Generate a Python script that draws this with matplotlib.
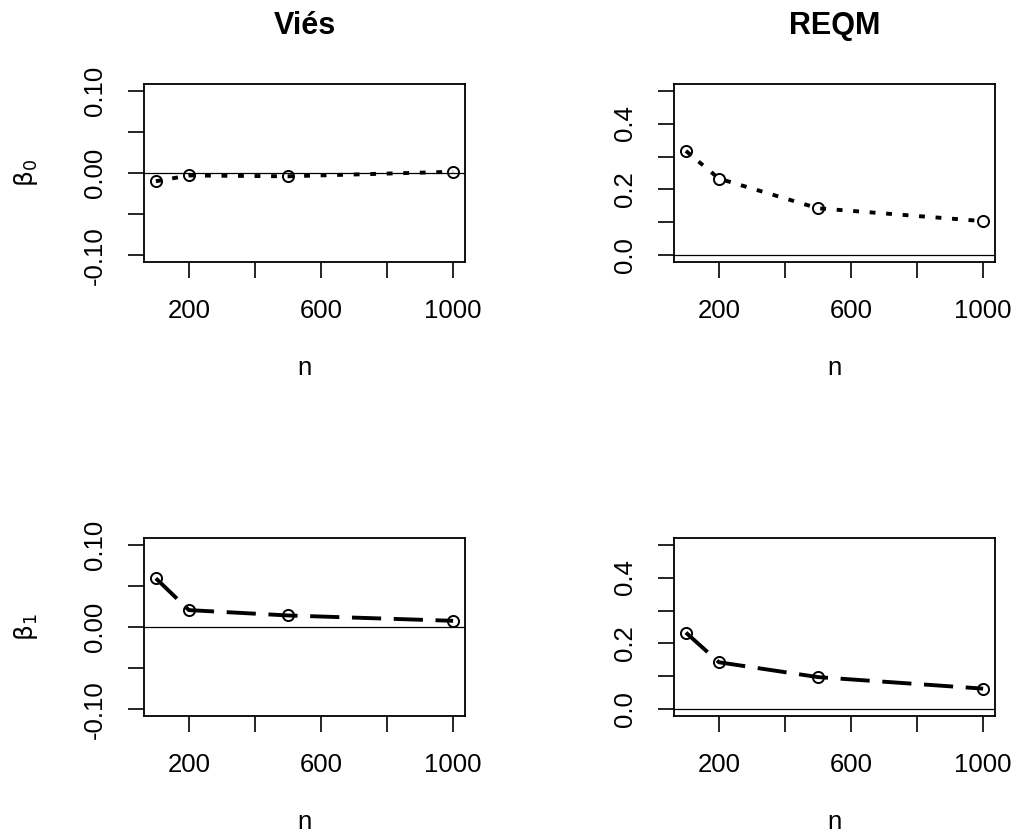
import matplotlib
matplotlib.use("Agg")
import matplotlib.pyplot as plt

plt.rcParams['font.family'] = ['Liberation Sans', 'DejaVu Sans']
plt.rcParams['mathtext.fontset'] = 'dejavusans'

# simulation results: bias (Viés) and RMSE (REQM) per sample size
n = [100, 200, 500, 1000]
vies_b0 = [-0.010, -0.003, -0.004, 0.0015]
reqm_b0 = [0.317, 0.233, 0.143, 0.104]
vies_b1 = [0.059, 0.0205, 0.014, 0.0075]
reqm_b1 = [0.233, 0.143, 0.098, 0.063]

col_titles = ['Viés', 'REQM']
row_labels = [r'$\mathrm{\beta}_0$', r'$\mathrm{\beta}_1$']

vies_ticks = [-0.10, -0.05, 0.00, 0.05, 0.10]
vies_labels = ['-0.10', '', '0.00', '', '0.10']
reqm_ticks = [0.0, 0.1, 0.2, 0.3, 0.4, 0.5]
reqm_labels = ['0.0', '', '0.2', '', '0.4', '']
n_ticks = [200, 400, 600, 800, 1000]
n_labels = ['200', '', '600', '', '1000']

W, H = 1014, 834
fig = plt.figure(figsize=(W / 100, H / 100), dpi=100)

lefts = [144, 674]
tops = [84, 538]
aw, ah = 321, 178

panels = [
    (0, 0, vies_b0, (-0.1, 0.1), vies_ticks, vies_labels, 'dotted'),
    (0, 1, reqm_b0, (0.0, 0.5), reqm_ticks, reqm_labels, 'dotted'),
    (1, 0, vies_b1, (-0.1, 0.1), vies_ticks, vies_labels, 'long'),
    (1, 1, reqm_b1, (0.0, 0.5), reqm_ticks, reqm_labels, 'long'),
]

for row, col, vals, (lo, hi), yt, ytl, style in panels:
    x0 = lefts[col] / W
    y0 = 1 - (tops[row] + ah) / H
    ax = fig.add_axes([x0, y0, aw / W, ah / H])

    dashes = (1.5, 2.75) if style == 'dotted' else (7.5, 3.25)
    ax.axhline(0, color='black', lw=0.9, zorder=1)
    ax.plot(n, vals, color='black', lw=2.8, dashes=dashes, zorder=2)
    ax.plot(n, vals, linestyle='none', marker='o', markersize=8,
            markerfacecolor='none', markeredgecolor='black',
            markeredgewidth=1.4, zorder=3)

    # R-style 4% padding on both axes
    xr = n[-1] - n[0]
    ax.set_xlim(n[0] - 0.04 * xr, n[-1] + 0.04 * xr)
    yr = hi - lo
    ax.set_ylim(lo - 0.04 * yr, hi + 0.04 * yr)

    ax.set_xticks(n_ticks)
    ax.set_xticklabels(n_labels)
    ax.set_yticks(yt)
    ax.set_yticklabels(ytl)
    ax.tick_params(direction='out', length=11.5, width=1.2, pad=15,
                   labelsize=18.5, colors='black')
    ax.tick_params(axis='y', labelrotation=90)
    for lab in ax.get_yticklabels():
        lab.set_verticalalignment('center')
    for sp in ax.spines.values():
        sp.set_linewidth(1.3)

    ax.set_xlabel('n', fontsize=18.5)
    ax.xaxis.set_label_coords(0.5, -0.53)

    if col == 0:
        ax.set_ylabel(row_labels[row], fontsize=18)
        ax.yaxis.set_label_coords(-0.325, 0.5)
    if row == 0:
        ax.set_title(col_titles[col], fontsize=22, fontweight='bold', pad=36)

fig.savefig('out.png', dpi=100)
